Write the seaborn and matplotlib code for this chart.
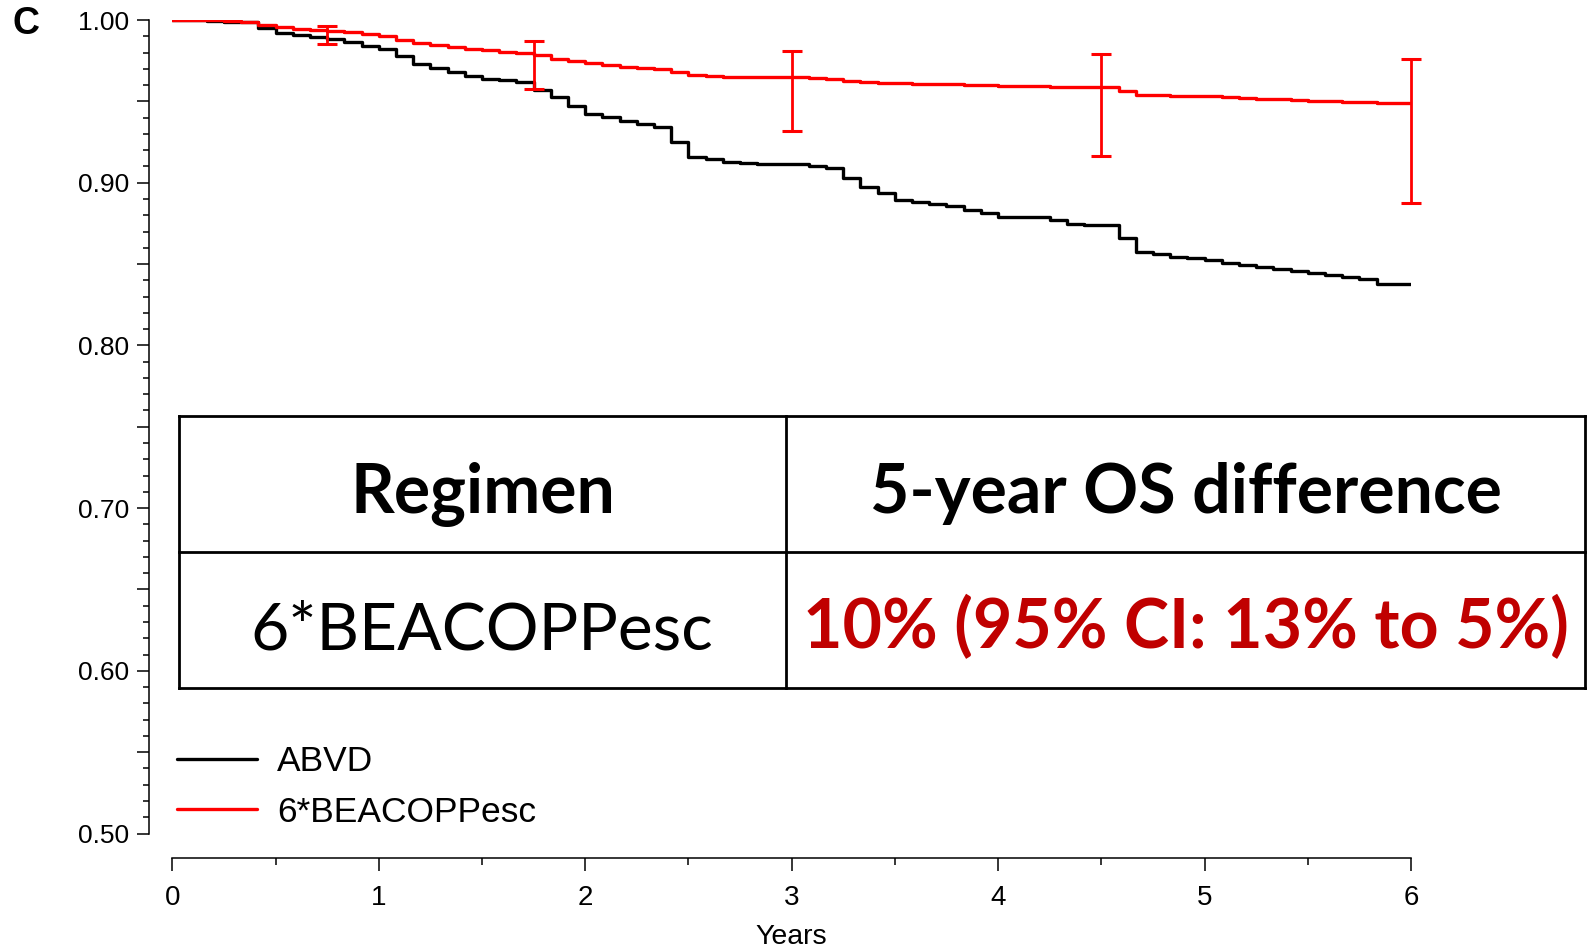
import numpy as np
import pandas as pd
import matplotlib
matplotlib.use("Agg")
import matplotlib.pyplot as plt
from matplotlib.lines import Line2D
from matplotlib.ticker import MultipleLocator, FuncFormatter
import seaborn as sns

# ---------------- data ----------------
months = np.arange(0, 73)          # monthly grid, 0..72 months
years = months / 12.0

abvd = [1.0, 1.0, 0.9995, 0.999, 0.9985, 0.9951, 0.992, 0.991, 0.9896, 0.9884,
        0.9866, 0.9839, 0.9819, 0.9778, 0.9728, 0.9707, 0.968, 0.9656, 0.964, 0.963,
        0.962, 0.957, 0.9525, 0.9473, 0.9423, 0.9403, 0.9382, 0.9362, 0.9342, 0.925,
        0.9155, 0.9143, 0.9129, 0.9122, 0.9118, 0.9112, 0.9112, 0.9102, 0.9088, 0.9027,
        0.8976, 0.8935, 0.8895, 0.8881, 0.887, 0.8858, 0.8834, 0.8814, 0.8789, 0.8789,
        0.8789, 0.8773, 0.8748, 0.8742, 0.8742, 0.8661, 0.8574, 0.856, 0.8545, 0.8539,
        0.8525, 0.8505, 0.8492, 0.8483, 0.8468, 0.8458, 0.8444, 0.8434, 0.8422, 0.8407,
        0.8375, 0.8375, 0.8375]

beacopp = [1.0, 1.0, 0.9997, 0.9993, 0.9985, 0.9971, 0.9957, 0.9945, 0.9937, 0.993,
           0.9924, 0.9915, 0.9904, 0.9876, 0.986, 0.9845, 0.9835, 0.9823, 0.9815, 0.9805,
           0.9799, 0.9782, 0.9762, 0.975, 0.9734, 0.9723, 0.9713, 0.9707, 0.9701, 0.9683,
           0.9662, 0.9656, 0.9647, 0.9647, 0.9647, 0.9647, 0.9647, 0.9642, 0.9636, 0.9628,
           0.962, 0.9614, 0.961, 0.9604, 0.9604, 0.9604, 0.96, 0.96, 0.9596, 0.9596,
           0.9596, 0.9589, 0.9586, 0.9586, 0.9586, 0.9565, 0.954, 0.954, 0.9534, 0.9534,
           0.9534, 0.9528, 0.952, 0.9516, 0.9516, 0.951, 0.9504, 0.9504, 0.9498, 0.9498,
           0.9492, 0.9492, 0.9492]

ci_times = [0.75, 1.75, 3.0, 4.5, 6.0]
ci_center = [0.993, 0.9782, 0.9647, 0.9586, 0.9492]
ci_upper = [0.9963, 0.9873, 0.981, 0.9793, 0.9758]
ci_lower = [0.9853, 0.9575, 0.9315, 0.9163, 0.8875]

regimens = ["ABVD", "6*BEACOPPesc"]
colors = {"ABVD": "#000000", "6*BEACOPPesc": "#FF0000"}

table_header = ["Regimen", "5-year OS difference"]
table_row = ["6*BEACOPPesc", "10% (95% CI: 13% to 5%)"]

x_ticks = [0, 1, 2, 3, 4, 5, 6]
y_ticks = [0.50, 0.60, 0.70, 0.80, 0.90, 1.00]

df = pd.concat([
    pd.DataFrame({"Years": years, "Survival": abvd, "Regimen": "ABVD"}),
    pd.DataFrame({"Years": years, "Survival": beacopp, "Regimen": "6*BEACOPPesc"}),
])

# ---------------- figure ----------------
sns.set_theme(style="ticks")
plt.rcParams["font.family"] = ["Liberation Sans", "DejaVu Sans"]
plt.rcParams["text.color"] = "black"
plt.rcParams["axes.labelcolor"] = "black"

W, H = 1588, 949
fig = plt.figure(figsize=(W / 100, H / 100), dpi=100)

def fx(px):
    return px / W

def fy(py):
    return 1 - py / H

ax_left, ax_right, ax_top, ax_bottom = 172.3, 1411.0, 20.0, 833.5
ax = fig.add_axes([fx(ax_left), fy(ax_bottom), fx(ax_right - ax_left), (ax_bottom - ax_top) / H])

sns.lineplot(data=df, x="Years", y="Survival", hue="Regimen", hue_order=regimens,
             palette=colors, drawstyle="steps-post", linewidth=2.4, estimator=None,
             ax=ax, legend=True)

yerr = [np.array(ci_center) - np.array(ci_lower), np.array(ci_upper) - np.array(ci_center)]
ax.errorbar(ci_times, ci_center, yerr=yerr, fmt="none", ecolor="#FF0000",
            elinewidth=2.0, capsize=7.5, capthick=2.2, clip_on=False, zorder=5)

ax.set_xlim(0, 6)
ax.set_ylim(0.5, 1.0)
ax.set_xticks(x_ticks)
ax.xaxis.set_minor_locator(MultipleLocator(0.5))
ax.yaxis.set_major_locator(MultipleLocator(0.05))
ax.yaxis.set_minor_locator(MultipleLocator(0.01))
ax.yaxis.set_major_formatter(FuncFormatter(
    lambda v, p: f"{v:.2f}" if any(abs(v - t) < 1e-6 for t in y_ticks) else ""))

for s in ["top", "right"]:
    ax.spines[s].set_visible(False)
ax.spines["left"].set_position(("outward", 16.5))
ax.spines["bottom"].set_position(("outward", 17.6))
for s in ["left", "bottom"]:
    ax.spines[s].set_linewidth(1.1)
    ax.spines[s].set_color("black")

ax.tick_params(axis="y", which="major", length=8.3, width=1.1, pad=6.0,
               labelsize=19, colors="black", direction="out")
ax.tick_params(axis="y", which="minor", length=4.0, width=1.1, color="black", direction="out")
ax.tick_params(axis="x", which="major", length=9.4, width=1.1, pad=10.0,
               labelsize=20, colors="black", direction="out")
ax.tick_params(axis="x", which="minor", length=5.0, width=1.1, color="black", direction="out")

ax.set_xlabel("Years", fontsize=20.5, color="black", labelpad=9.5)
ax.set_ylabel("")
ax.set_facecolor("white")

leg = ax.legend(loc="upper left", bbox_to_anchor=(fx(177), fy(745)),
                bbox_transform=fig.transFigure, frameon=False, fontsize=25.5,
                borderpad=0, borderaxespad=0, handlelength=2.25, handletextpad=0.58,
                labelspacing=0.5, title=None, labelcolor="black")
for line in leg.get_lines():
    line.set_linewidth(2.4)

# panel letter
fig.text(fx(26), fy(24), "C", fontsize=27, fontweight="bold", ha="center", va="center",
         color="black")

# ---------------- table annotation ----------------
t_left, t_right, t_top, t_bottom = 179, 1585, 416, 688
t_midx, t_midy = 786, 552
lw_tab = 2.0
segments = [
    ((t_left, t_right), (t_top, t_top)),
    ((t_left, t_right), (t_bottom, t_bottom)),
    ((t_left, t_right), (t_midy, t_midy)),
    ((t_left, t_left), (t_top, t_bottom)),
    ((t_right, t_right), (t_top, t_bottom)),
    ((t_midx, t_midx), (t_top, t_bottom)),
]
for (xs, ys) in segments:
    fig.add_artist(Line2D([fx(xs[0]), fx(xs[1])], [fy(ys[0]), fy(ys[1])],
                          transform=fig.transFigure, color="black", linewidth=lw_tab,
                          solid_capstyle="projecting"))

tab_font = ["Lato", "DejaVu Sans"]
tab_size = 49
fig.text(fx(483), fy(513), table_header[0], fontsize=tab_size, fontweight="bold",
         family=tab_font, ha="center", va="baseline", color="black")
fig.text(fx(1186), fy(513), table_header[1], fontsize=tab_size, fontweight="bold",
         family=tab_font, ha="center", va="baseline", color="black")
fig.text(fx(482), fy(650), table_row[0], fontsize=47.5, fontweight="normal",
         family=tab_font, ha="center", va="baseline", color="black")
fig.text(fx(1186), fy(648), table_row[1], fontsize=tab_size, fontweight="bold",
         family=tab_font, ha="center", va="baseline", color="#C00000")

fig.savefig("out.png", dpi=100, facecolor="white")
